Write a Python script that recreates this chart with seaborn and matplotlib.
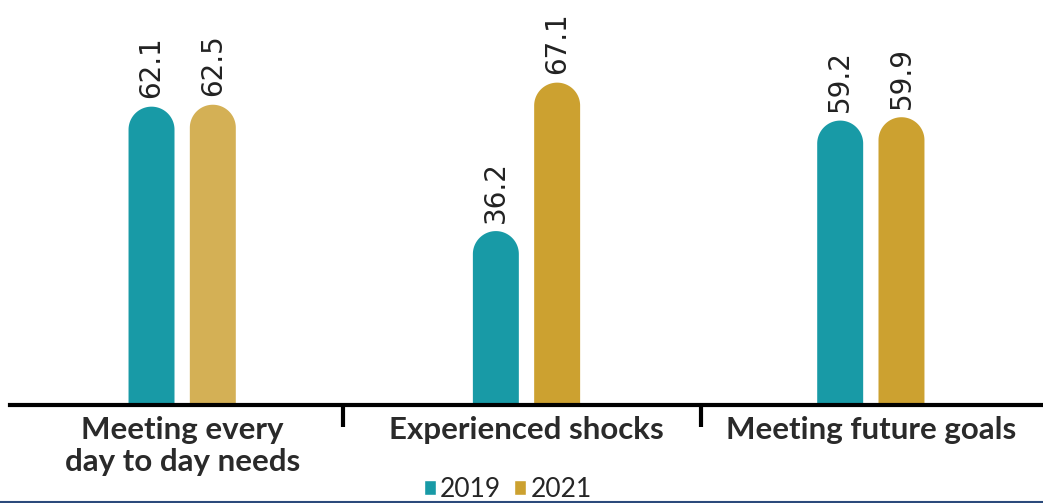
import matplotlib
matplotlib.use("Agg")
import matplotlib.pyplot as plt
import seaborn as sns
import pandas as pd
import numpy as np
from matplotlib.patches import Polygon
from matplotlib.lines import Line2D

categories = ["Meeting every\nday to day needs", "Experienced shocks", "Meeting future goals"]
years = ["2019", "2021"]
values_2019 = [62.1, 36.2, 59.2]
values_2021 = [62.5, 67.1, 59.9]

colors = {"2019": "#189aa6", "2021": "#cca130"}
light_gold = "#d4b055"

df = pd.DataFrame({
    "category": categories * 2,
    "year": ["2019"] * 3 + ["2021"] * 3,
    "value": values_2019 + values_2021,
})

sns.set_theme(style="white")
plt.rcParams["font.family"] = ["Lato", "DejaVu Sans"]

fig = plt.figure(figsize=(10.43, 5.03), dpi=100)
ax = fig.add_axes([10 / 1043, 98 / 503, 1033 / 1043, 405 / 503])

sns.barplot(data=df, x="category", y="value", hue="year", palette=colors,
            width=0.356, gap=0.25, ax=ax, legend=True, saturation=1)

ax.set_xlim(-0.5, 2.5)
ax.set_ylim(0, 84.3)

# rounded tops
fig.canvas.draw()
sx = ax.transData.transform((1, 0))[0] - ax.transData.transform((0, 0))[0]
sy = ax.transData.transform((0, 1))[1] - ax.transData.transform((0, 0))[1]
for ci, cont in enumerate(ax.containers):
    for bi, p in enumerate(cont.patches):
        x0, w, h = p.get_x(), p.get_width(), p.get_height()
        fc = p.get_facecolor()
        if ci == 1 and bi == 0:
            fc = light_gold
        rx = w / 2
        ry = rx * sx / sy
        cx = x0 + rx
        t = np.linspace(np.pi, 0, 60)
        arc = np.column_stack([cx + rx * np.cos(t), (h - ry) + ry * np.sin(t)])
        pts = np.vstack([[x0, 0], [x0, h - ry], arc, [x0 + w, h - ry], [x0 + w, 0]])
        poly = Polygon(pts, closed=True, facecolor=fc, edgecolor="none", zorder=2)
        ax.add_patch(poly)
        p.set_visible(False)
        ax.annotate(f"{h:.1f}", (cx, h), xytext=(0, 6), textcoords="offset points",
                    rotation=90, ha="center", va="bottom", fontsize=20,
                    family="DejaVu Sans", color="#222222")

# axes styling
for s in ["top", "right", "left"]:
    ax.spines[s].set_visible(False)
ax.spines["bottom"].set_linewidth(3)
ax.spines["bottom"].set_color("black")
ax.set_yticks([])
ax.set_xlabel("")
ax.set_ylabel("")
ax.set_xticks([0.467, 1.506])
ax.set_xticklabels([])
ax.tick_params(axis="x", which="major", length=16, width=3, color="black", bottom=True)
ax.set_xticks([0, 1, 2], minor=True)
ax.set_xticklabels(categories, minor=True, fontsize=22.5, fontweight="bold",
                   color="#2a2a2a", linespacing=1.18)
ax.tick_params(axis="x", which="minor", length=0, pad=8)

# legend
leg = ax.get_legend()
handles = leg.legend_handles
leg.remove()
for hnd, y in zip(handles, years):
    hnd.set_facecolor(colors[y])
fig.legend(handles, years, loc="center", bbox_to_anchor=(0.487, 0.027), ncol=2,
           frameon=False, fontsize=19, handlelength=0.45, handleheight=0.45,
           handletextpad=0.15, columnspacing=0.5, borderpad=0)

fig.add_artist(Line2D([0, 1], [1.5 / 503, 1.5 / 503], color="#2b4a7b", lw=1.5,
                      transform=fig.transFigure))

fig.savefig("out.png", dpi=100)
